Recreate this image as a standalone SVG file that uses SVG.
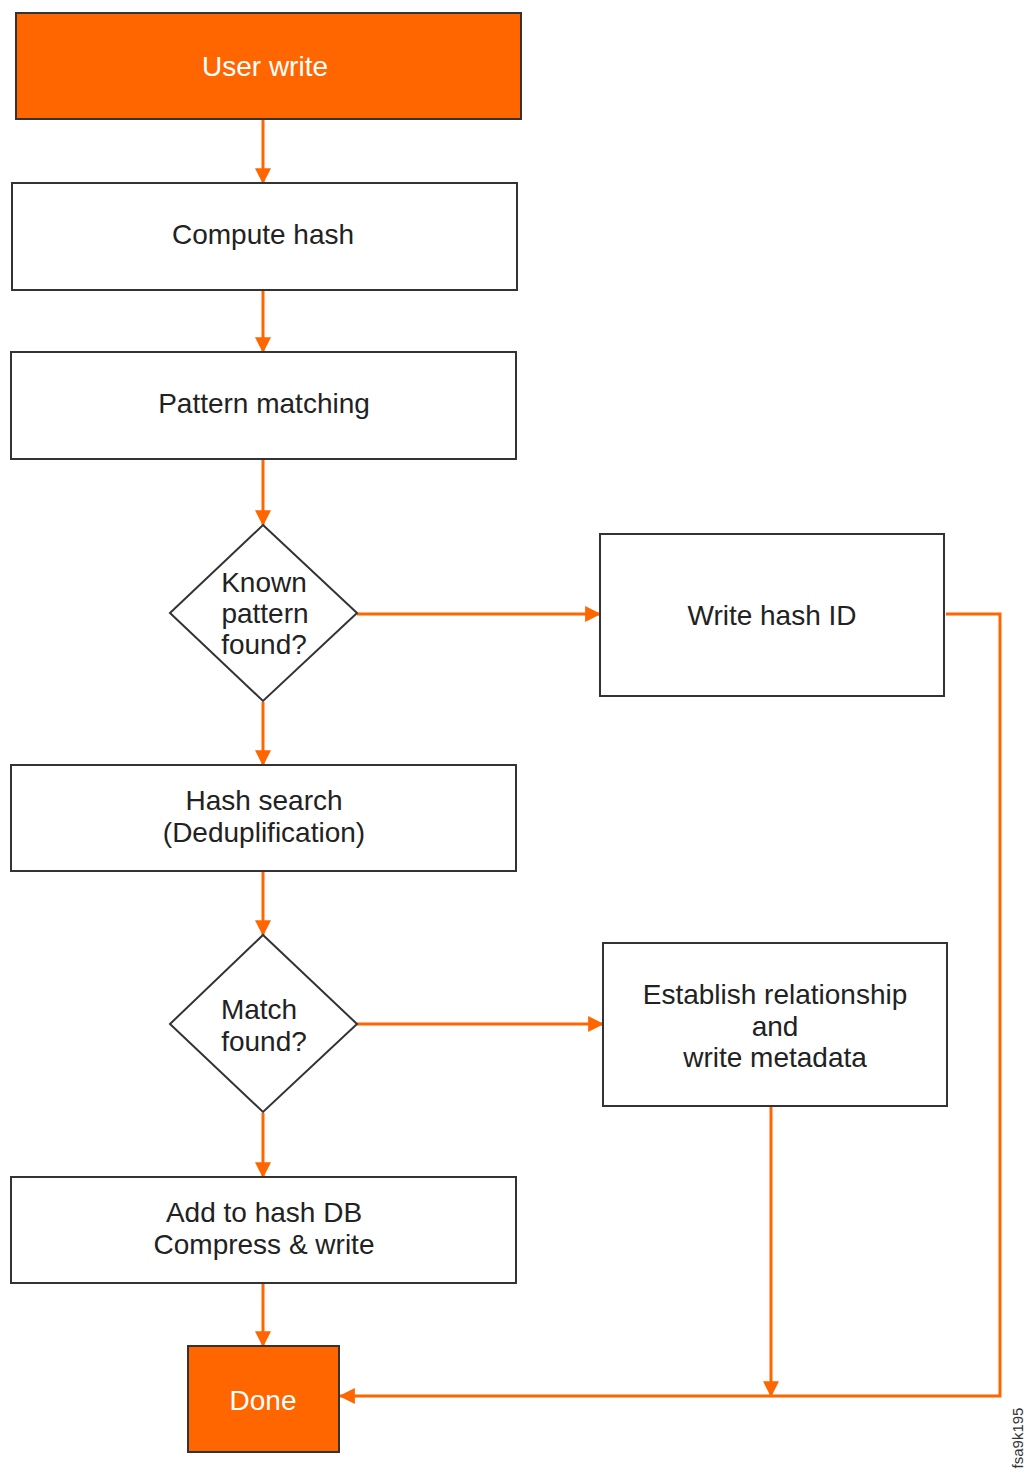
<svg xmlns="http://www.w3.org/2000/svg" width="1024" height="1474" viewBox="0 0 1024 1474">
<style>
.box{fill:#fff;stroke:#333;stroke-width:2}
.hl{fill:#FF6600;stroke:#333;stroke-width:2}
.t{font-family:"Liberation Sans",Arial,sans-serif;font-size:28px;fill:#222;text-anchor:middle}
.tw{fill:#fff}
.c{fill:none;stroke:#FF6600;stroke-width:3}
</style>
<defs>
<marker id="ah" markerUnits="userSpaceOnUse" markerWidth="16" markerHeight="16" viewBox="0 0 14 14" refX="13" refY="7" orient="auto">
<path d="M0,0 L14,7 L0,14 Z" fill="#FF6600"/>
</marker>
</defs>
<rect width="1024" height="1474" fill="#fff"/>
<g id="connectors">
<line class="c" x1="263" y1="120" x2="263" y2="183" marker-end="url(#ah)"/>
<line class="c" x1="263" y1="291" x2="263" y2="352" marker-end="url(#ah)"/>
<line class="c" x1="263" y1="460" x2="263" y2="525" marker-end="url(#ah)"/>
<line class="c" x1="357" y1="614" x2="600" y2="614" marker-end="url(#ah)"/>
<line class="c" x1="263" y1="702" x2="263" y2="765" marker-end="url(#ah)"/>
<line class="c" x1="263" y1="872" x2="263" y2="935" marker-end="url(#ah)"/>
<line class="c" x1="357" y1="1024" x2="603" y2="1024" marker-end="url(#ah)"/>
<line class="c" x1="263" y1="1113" x2="263" y2="1177" marker-end="url(#ah)"/>
<line class="c" x1="263" y1="1284" x2="263" y2="1346" marker-end="url(#ah)"/>
<polyline class="c" points="946,614 1000,614 1000,1396 340,1396" marker-end="url(#ah)"/>
<line class="c" x1="771" y1="1107" x2="771" y2="1396" marker-end="url(#ah)"/>
</g>
<g id="user-write">
<rect class="hl" x="16" y="13" width="505" height="106"/>
<text class="t tw" x="265" y="76">User write</text>
</g>
<g id="compute-hash">
<rect class="box" x="12" y="183" width="505" height="107"/>
<text class="t" x="263" y="244">Compute hash</text>
</g>
<g id="pattern-matching">
<rect class="box" x="11" y="352" width="505" height="107"/>
<text class="t" x="264" y="413">Pattern matching</text>
</g>
<g id="known-pattern">
<polygon class="box" points="263,525 357,613 263,701 170,613"/>
<text class="t" x="264" y="592">Known</text>
<text class="t" x="265" y="623">pattern</text>
<text class="t" x="264" y="654">found?</text>
</g>
<g id="write-hash-id">
<rect class="box" x="600" y="534" width="344" height="162"/>
<text class="t" x="772" y="625">Write hash ID</text>
</g>
<g id="hash-search">
<rect class="box" x="11" y="765" width="505" height="106"/>
<text class="t" x="264" y="810">Hash search</text>
<text class="t" x="264" y="842">(Deduplification)</text>
</g>
<g id="match-found">
<polygon class="box" points="263,935 357,1024 263,1112 170,1024"/>
<text class="t" x="259" y="1019">Match</text>
<text class="t" x="264" y="1051">found?</text>
</g>
<g id="establish">
<rect class="box" x="603" y="943" width="344" height="163"/>
<text class="t" x="775" y="1004">Establish relationship</text>
<text class="t" x="775" y="1036">and</text>
<text class="t" x="775" y="1067">write metadata</text>
</g>
<g id="add-to-hash-db">
<rect class="box" x="11" y="1177" width="505" height="106"/>
<text class="t" x="264" y="1222">Add to hash DB</text>
<text class="t" x="264" y="1254">Compress &amp; write</text>
</g>
<g id="done">
<rect class="hl" x="188" y="1346" width="151" height="106"/>
<text class="t tw" x="263" y="1410">Done</text>
</g>
<text x="1023" y="1438" transform="rotate(-90 1023 1438)" font-family="'Liberation Sans',Arial,sans-serif" font-size="15" fill="#333" text-anchor="middle">fsa9k195</text>
</svg>
